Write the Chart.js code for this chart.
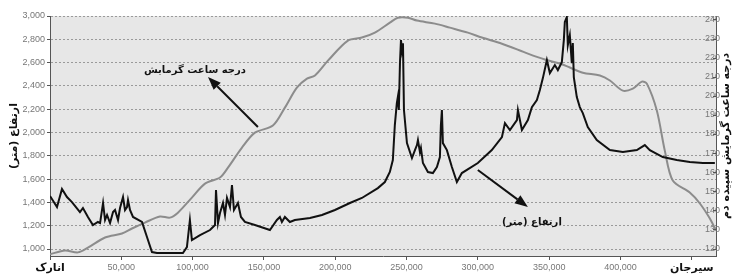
<!DOCTYPE html>
<html>
<head>
<meta charset="utf-8">
<script src="https://cdn.jsdelivr.net/npm/chart.js@4"></script>
<style>
  html, body { margin: 0; padding: 0; background: #fff; }
</style>
</head>
<body>
<canvas id="profileChart" width="732" height="278"></canvas>
<script>
// distance along the route (m) and elevation (m)
const elevDist = [0, 4900, 8400, 11900, 15400, 21000, 23100, 26600, 30100, 33600,
  35100, 37200, 38600, 40000, 42100, 44200, 45600, 47700, 49100, 51200,
  52600, 54000, 54700, 56100, 58200, 64500, 68000, 71500, 75000, 93200,
  96000, 98100, 99500, 105200, 112200, 115700, 116400, 117800, 119200, 121300,
  122700, 124100, 126200, 127600, 129000, 131800, 133900, 136700, 143700, 154200,
  159100, 161200, 162600, 164700, 168200, 171700, 182300, 190700, 199800, 210300,
  218700, 229900, 234800, 238300, 240400, 241800, 243200, 243900, 244600, 245400,
  246100, 246800, 247500, 248200, 250300, 253800, 255900, 257300, 258000, 259400,
  260100, 261500, 265000, 268500, 271300, 273400, 274100, 274800, 275500, 278300,
  281800, 285300, 288800, 300000, 309800, 316900, 319000, 322500, 327400, 328100,
  330900, 335100, 337900, 341400, 343500, 345600, 348400, 350500, 354000, 356100,
  358900, 360300, 361000, 362400, 363100, 364500, 365900, 366600, 367300, 369400,
  371500, 373600, 377100, 383400, 392600, 401700, 411500, 417100, 420600, 429700,
  439500, 448600, 457800, 466200];
const elevation = [1455, 1360, 1515, 1446, 1403, 1317, 1352, 1275, 1206, 1232,
  1223, 1395, 1249, 1292, 1223, 1317, 1335, 1249, 1352, 1446,
  1335, 1360, 1420, 1335, 1275, 1232, 1103, 974, 966, 966,
  1017, 1249, 1077, 1120, 1163, 1206, 1506, 1223, 1309, 1395,
  1292, 1438, 1360, 1549, 1335, 1395, 1275, 1232, 1206, 1163,
  1249, 1275, 1232, 1275, 1232, 1249, 1266, 1292, 1335, 1395,
  1438, 1523, 1575, 1661, 1764, 2064, 2253, 2304, 2193, 2596,
  2793, 2707, 2767, 2193, 1909, 1781, 1849, 1892, 1935, 1832,
  1867, 1738, 1661, 1652, 1704, 1789, 2064, 2193, 1909, 1849,
  1704, 1575, 1652, 1738, 1849, 1961, 2081, 2021, 2107, 2193,
  2021, 2107, 2218, 2278, 2364, 2467, 2622, 2510, 2579, 2536,
  2604, 2793, 2948, 2991, 2750, 2836, 2596, 2767, 2476, 2304,
  2218, 2167, 2047, 1935, 1849, 1832, 1849, 1892, 1849, 1789,
  1764, 1746, 1738, 1738];

// dawn heating degree hours along the route
const heatDist = [0, 10500, 19600, 26600, 38600, 50500, 57500, 66600, 77100, 84100,
  89700, 99500, 108700, 119200, 124800, 134600, 143700, 156300, 164700, 173100,
  180200, 185800, 194900, 208900, 218700, 227800, 238300, 243900, 251000, 257300,
  269900, 280400, 293000, 302800, 316900, 335100, 347000, 357500, 364500, 373600,
  385600, 392600, 401700, 408700, 415000, 418500, 425500, 431100, 436700, 448600,
  455700, 462700, 467000];
const heatHours = [117, 119, 118, 120.5, 125.8, 127.9, 130.5, 133.6, 136.8, 136.2,
  138.8, 146.7, 154, 157.2, 162.4, 172.9, 180.7, 184.4, 193.8, 204.3,
  209, 210.6, 218.4, 228.9, 230.5, 233.1, 238.3, 240.9, 240.9, 239.4,
  237.8, 235.7, 233.1, 230.5, 227.3, 222.1, 219, 216.9, 214.8, 212.1,
  210.6, 208, 202.7, 203.8, 207.4, 206.4, 192.3, 171.3, 155.6, 149.3,
  143.6, 135.7, 129.4];

// tick labels
const xTicks = [0, 50000, 100000, 150000, 200000, 250000, 300000, 350000, 400000, 450000];
const xTickLabels = ['انارک', '50,000', '100,000', '150,000', '200,000', '250,000',
  '300,000', '350,000', '400,000', 'سیرجان'];
const leftTicks = [1000, 1200, 1400, 1600, 1800, 2000, 2200, 2400, 2600, 2800, 3000];
const rightTicks = [120, 130, 140, 150, 160, 170, 180, 190, 200, 210, 220, 230, 240];

const leftTitle = 'ارتفاع (متر)\u200F';
const rightTitle = 'درجه ساعت گرمایش سپیده دم';

// callouts, anchored in data units (distance, elevation)
const callouts = [
  { text: 'درجه ساعت گرمايش', at: [101600, 2536], from: [145800, 2047], to: [110800, 2476] },
  { text: 'ارتفاع (متر)\u200F', at: [337900, 1232], from: [300000, 1678], to: [335100, 1360] }
];

const elevPoints = elevDist.map((d, i) => ({ x: d, y: elevation[i] }));
const heatPoints = heatDist.map((d, i) => ({ x: d, y: heatHours[i] }));

const tickFont = { family: 'Liberation Sans, Arial, sans-serif', size: 9 };
const faFont = 'DejaVu Sans, sans-serif';

function drawArrow(ctx, x1, y1, x2, y2) {
  const ang = Math.atan2(y2 - y1, x2 - x1);
  const len = 13, half = 5;
  const bx = x2 - len * Math.cos(ang), by = y2 - len * Math.sin(ang);
  ctx.beginPath();
  ctx.moveTo(x1, y1);
  ctx.lineTo(bx, by);
  ctx.stroke();
  ctx.beginPath();
  ctx.moveTo(x2, y2);
  ctx.lineTo(bx + half * Math.sin(ang), by - half * Math.cos(ang));
  ctx.lineTo(bx - half * Math.sin(ang), by + half * Math.cos(ang));
  ctx.closePath();
  ctx.fill();
}

const extras = {
  id: 'extras',
  beforeDraw(chart) {
    const { ctx, chartArea: a } = chart;
    ctx.save();
    ctx.fillStyle = '#e7e7e7';
    ctx.fillRect(a.left, a.top, a.right - a.left, a.bottom - a.top);
    ctx.restore();
  },
  afterDraw(chart) {
    const { ctx, chartArea: a, scales } = chart;
    const xs = scales.x, yl = scales.y, yr = scales.y1;
    ctx.save();
    // inward tick marks on the right axis
    ctx.strokeStyle = '#555';
    ctx.lineWidth = 1;
    rightTicks.forEach(v => {
      const y = Math.round(yr.getPixelForValue(v)) + 0.5;
      ctx.beginPath();
      ctx.moveTo(a.right - 3, y);
      ctx.lineTo(a.right, y);
      ctx.stroke();
    });
    // right axis title, rotated like the left one
    ctx.fillStyle = '#111';
    ctx.font = 'bold 11px ' + faFont;
    ctx.textAlign = 'center';
    ctx.textBaseline = 'middle';
    ctx.translate(726, (a.top + a.bottom) / 2);
    ctx.rotate(-Math.PI / 2);
    ctx.fillText(rightTitle, 0, 0);
    ctx.restore();

    // callouts
    ctx.save();
    ctx.fillStyle = '#111';
    ctx.strokeStyle = '#111';
    ctx.lineWidth = 2;
    ctx.font = 'bold 10px ' + faFont;
    ctx.textAlign = 'center';
    ctx.textBaseline = 'middle';
    callouts.forEach(c => {
      ctx.fillText(c.text, xs.getPixelForValue(c.at[0]), yl.getPixelForValue(c.at[1]));
      drawArrow(ctx,
        xs.getPixelForValue(c.from[0]), yl.getPixelForValue(c.from[1]),
        xs.getPixelForValue(c.to[0]), yl.getPixelForValue(c.to[1]));
    });
    ctx.restore();
  }
};

new Chart(document.getElementById('profileChart'), {
  type: 'line',
  data: {
    datasets: [
      {
        label: 'ارتفاع',
        data: elevPoints,
        yAxisID: 'y',
        borderColor: '#111',
        borderWidth: 2,
        pointRadius: 0,
        tension: 0
      },
      {
        label: 'درجه ساعت گرمایش',
        data: heatPoints,
        yAxisID: 'y1',
        borderColor: '#8c8c8c',
        borderWidth: 2,
        pointRadius: 0,
        tension: 0.3
      }
    ]
  },
  options: {
    responsive: false,
    animation: false,
    layout: { padding: { top: 16, left: 0, right: 0, bottom: 0 } },
    plugins: { legend: { display: false }, tooltip: { enabled: false } },
    scales: {
      x: {
        type: 'linear',
        min: 0,
        max: 467000,
        afterBuildTicks: s => { s.ticks = xTicks.map(v => ({ value: v })); },
        afterFit: s => { s.height = 22; },
        ticks: {
          autoSkip: false,
          maxRotation: 0,
          padding: 2,
          callback: (v, i) => xTickLabels[i],
          color: c => (c.index === 0 || c.index === xTicks.length - 1) ? '#111' : '#777',
          font: c => (c.index === 0 || c.index === xTicks.length - 1)
            ? { family: faFont, size: 11, weight: 'bold' } : tickFont
        },
        grid: { drawOnChartArea: false, drawTicks: true, tickLength: 4, color: '#555' },
        border: { color: '#555' }
      },
      y: {
        position: 'left',
        min: 940,
        max: 3000,
        afterBuildTicks: s => { s.ticks = leftTicks.map(v => ({ value: v })); },
        afterFit: s => { s.width = 50; },
        ticks: {
          padding: 2,
          color: '#777',
          font: tickFont,
          callback: v => v.toLocaleString('en-US')
        },
        title: {
          display: true,
          text: leftTitle,
          color: '#111',
          font: { family: faFont, size: 11, weight: 'bold' },
          padding: { top: 8, bottom: 0 }
        },
        grid: { color: '#9a9a9a', tickLength: 3, tickColor: '#555', tickBorderDash: [] },
        border: { color: '#555', dash: [2, 2] }
      },
      y1: {
        position: 'right',
        min: 116.1,
        max: 241.8,
        afterBuildTicks: s => { s.ticks = rightTicks.map(v => ({ value: v })); },
        afterFit: s => { s.width = 16; },
        ticks: {
          mirror: true,
          padding: 4,
          color: '#777',
          font: tickFont
        },
        grid: { drawOnChartArea: false, drawTicks: false },
        border: { color: '#555' }
      }
    }
  },
  plugins: [extras]
});
</script>
</body>
</html>
